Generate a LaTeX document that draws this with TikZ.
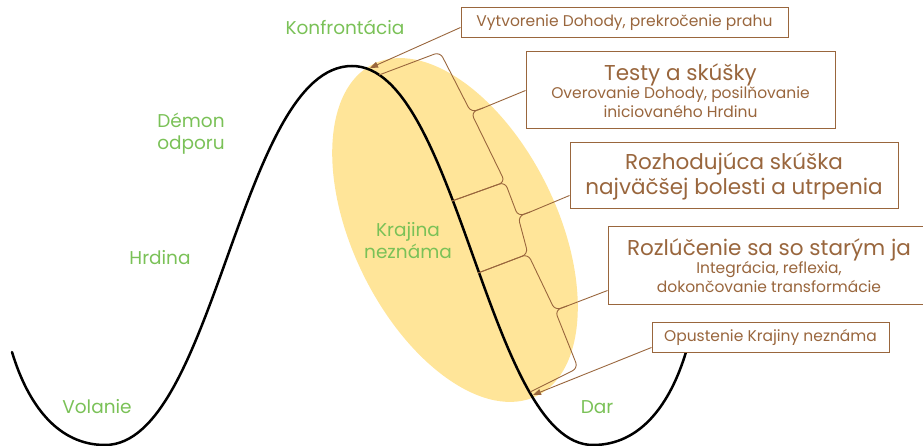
\documentclass[tikz,border=0pt]{standalone}
\usepackage{fontspec}
\setmainfont{Poppins}
\usetikzlibrary{calc,arrows.meta}
\definecolor{brn}{RGB}{153,102,61}
\definecolor{grn}{RGB}{122,193,87}
\definecolor{ylw}{RGB}{255,229,153}
\begin{document}
\begin{tikzpicture}[x=1pt,y=-1pt,
  lab/.style={text=grn, font=\fontsize{18.5}{22}\selectfont, align=center, inner sep=0pt},
  box/.style={draw=brn, fill=white, line width=1pt, text=brn, align=center, inner sep=0pt},
  small/.style={font=\fontsize{15.5}{18.5}\selectfont},
  link/.style={draw=brn, line width=0.9pt},
  bracepath/.style={draw=brn, line width=0.9pt, rounded corners=6pt},
  arr/.style={draw=brn, line width=0.9pt, -{Triangle[length=8pt,width=6pt]}}
]
\useasboundingbox (0,0) rectangle (923,446);
% yellow region
\fill[ylw, rotate around={26.3:(455,230)}] (455,230) ellipse [x radius=102pt, y radius=185pt];
% journey curve
\draw[line width=2.5pt, line cap=round] (12,352) .. controls (28,405) and (58,445) .. (105,445)
  .. controls (215,445) and (240,66) .. (352,66)
  .. controls (458,66) and (488,445) .. (593,445)
  .. controls (640,445) and (670,405) .. (686,352);
% green labels
\node[lab] (konf) at (345,27) {Konfrontácia};
\node[lab] (demon) at (191,134) {Démon\\odporu};
\node[lab] (hrd) at (160,258) {Hrdina};
\node[lab] (vol) at (97,407) {Volanie};
\node[lab] (kraj) at (408,241) {Krajina\\neznáma};
\node[lab] (dar) at (597,407) {Dar};
% brace coordinates
\coordinate (A1) at (379,75);
\coordinate (C1) at (440,52);
\coordinate (T1) at (483,108);
\coordinate (K1) at ($(T1)+(-12,4.4)$);
\coordinate (C2) at (505,182);
\coordinate (B1) at (452,201);
\coordinate (T2) at (530,212);
\coordinate (K2) at ($(T2)+(-12,4.4)$);
\coordinate (C3) at (528,254);
\coordinate (B2) at (478,273);
\coordinate (T3) at (567,306);
\coordinate (K3) at ($(T3)+(-12,4.4)$);
\coordinate (C4) at (578,368);
\coordinate (B3) at (530,392);
\coordinate (P1) at (370,68);
\coordinate (P2) at (533,395);
% braces
\draw[bracepath] (A1) -- (C1) -- (K1) -- (T1);
\draw[bracepath] (T1) -- (K1) -- (C2) -- (B1);
\draw[bracepath] (B1) -- (C2) -- (K2) -- (T2);
\draw[bracepath] (T2) -- (K2) -- (C3) -- (B2);
\draw[bracepath] (B2) -- (C3) -- (K3) -- (T3);
\draw[bracepath] (T3) -- (K3) -- (C4) -- (B3);
% boxes
\node[box, small, minimum width=327pt, minimum height=30pt] (box1) at (624.5,23) {Vytvorenie Dohody, prekročenie prahu};
\node[box, small, minimum width=309pt, minimum height=77pt] (box2) at (680.5,90.5)
  {{\fontsize{21.5}{25}\selectfont Testy a skúšky}\\Overovanie Dohody, posilňovanie\\iniciovaného Hrdinu};
\node[box, font=\fontsize{21.5}{25}\selectfont, minimum width=328pt, minimum height=66pt] (box3) at (734,176)
  {Rozhodujúca skúška\\najväčšej bolesti a utrpenia};
\node[box, small, minimum width=322pt, minimum height=77pt] (box4) at (769,265.5)
  {{\fontsize{21.5}{25}\selectfont Rozlúčenie sa so starým ja}\\Integrácia, reflexia,\\dokončovanie transformácie};
\node[box, small, minimum width=237pt, minimum height=30pt] (box5) at (770.5,337) {Opustenie Krajiny neznáma};
% connectors
\draw[arr] ($(box1.south west)+(0,-11)$) -- (P1);
\draw[arr] ($(box5.south west)+(0,-5)$) -- (P2);
\draw[link] (T1) -- (box2.west);
\draw[link] (T2) -- ($(box3.south west)+(0,-14)$);
\draw[link] (T3) -- ($(box4.south west)+(0,-14)$);
\end{tikzpicture}
\end{document}
